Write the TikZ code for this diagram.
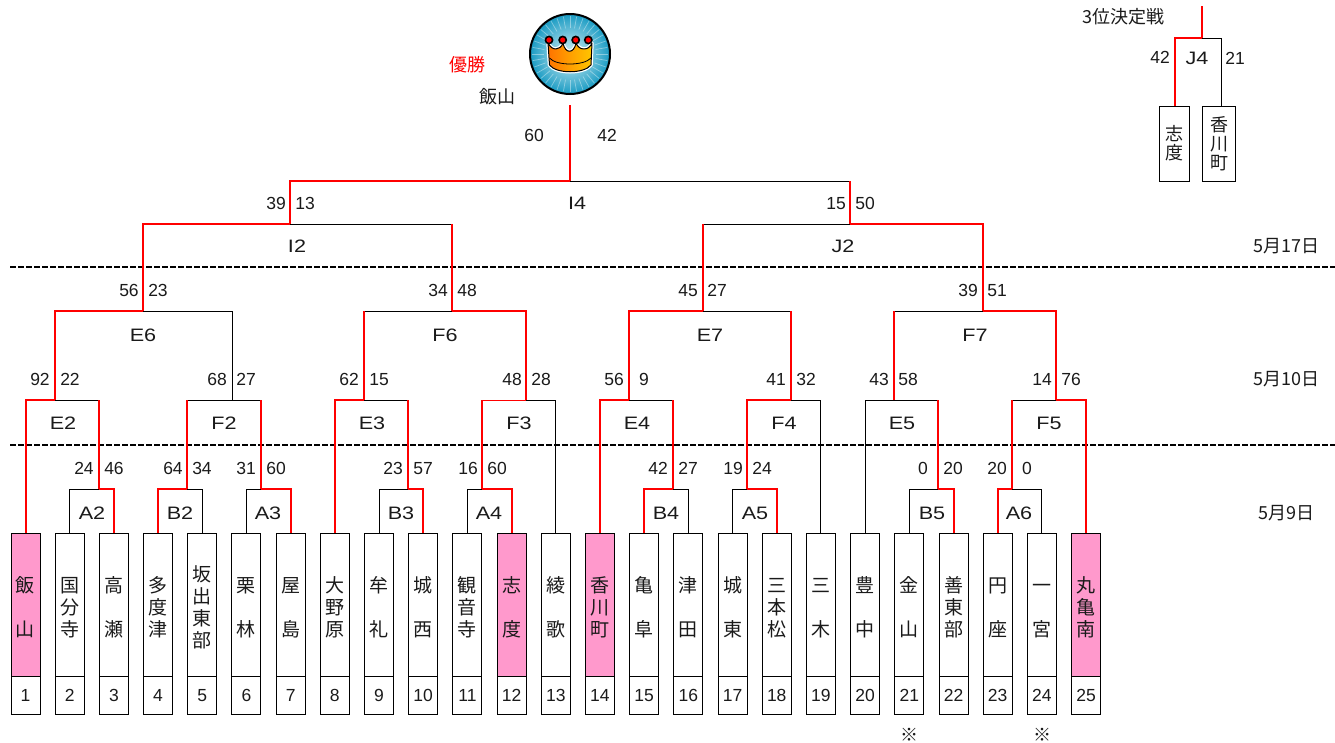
\documentclass[tikz,border=0pt]{standalone}
\usepackage{fontspec}
\setmainfont{Liberation Sans}
\newfontfamily\cjk{Noto Sans CJK JP}
\newfontfamily\widefont[FakeStretch=1.2]{Liberation Sans}
\definecolor{winred}{HTML}{FF0000}
\definecolor{seedpink}{HTML}{FF99CC}
\definecolor{ink}{HTML}{1A1A1A}
\newcommand{\tophead}{\rule{0pt}{21pt}}

\begin{document}
\begin{tikzpicture}[x=1pt,y=-1pt,node distance=44.19pt]
  \tikzstyle{team}=[rectangle,draw=black,line width=1pt,inner sep=0pt,minimum width=29pt,minimum height=143pt,align=center,text=ink,font=\fontsize{19}{22}\selectfont\cjk]
  \tikzstyle{seed}=[team,fill=seedpink]
  \tikzstyle{numbox}=[rectangle,draw=black,line width=1pt,inner sep=0pt,minimum width=29pt,minimum height=38pt,text=ink,text height=13pt,text depth=0pt,font=\fontsize{17.5}{20}\selectfont,node distance=90.5pt]
  \tikzstyle{score}=[inner sep=0pt,text=ink,text height=13pt,text depth=0pt,font=\fontsize{17.5}{20}\selectfont]
  \tikzstyle{match}=[inner sep=0pt,text=ink,font=\fontsize{18}{20}\selectfont\widefont]
  \tikzstyle{jp}=[inner sep=0pt,text=ink,font=\fontsize{18}{20}\selectfont\cjk]
  \tikzstyle{win}=[draw=winred,line width=2pt]
  \tikzstyle{lose}=[draw=black,line width=1pt]
  \tikzstyle{dayline}=[draw=black,line width=1.5pt,dash pattern=on 5.5pt off 2.5pt]

  \useasboundingbox (0,0) rectangle (1335,742);

  % teams
  \node[seed] (t1) at (25.5,604.5) {\tophead 飯\\[22pt]山};
  \node[team, right of=t1] (t2) {\tophead 国\\分\\寺};
  \node[team, right of=t2] (t3) {\tophead 高\\[22pt]瀬};
  \node[team, right of=t3] (t4) {\tophead 多\\度\\津};
  \node[team, right of=t4] (t5) {\tophead 坂\\出\\東\\部};
  \node[team, right of=t5] (t6) {\tophead 栗\\[22pt]林};
  \node[team, right of=t6] (t7) {\tophead 屋\\[22pt]島};
  \node[team, right of=t7] (t8) {\tophead 大\\野\\原};
  \node[team, right of=t8] (t9) {\tophead 牟\\[22pt]礼};
  \node[team, right of=t9] (t10) {\tophead 城\\[22pt]西};
  \node[team, right of=t10] (t11) {\tophead 観\\音\\寺};
  \node[seed, right of=t11] (t12) {\tophead 志\\[22pt]度};
  \node[team, right of=t12] (t13) {\tophead 綾\\[22pt]歌};
  \node[seed, right of=t13] (t14) {\tophead 香\\川\\町};
  \node[team, right of=t14] (t15) {\tophead 亀\\[22pt]阜};
  \node[team, right of=t15] (t16) {\tophead 津\\[22pt]田};
  \node[team, right of=t16] (t17) {\tophead 城\\[22pt]東};
  \node[team, right of=t17] (t18) {\tophead 三\\本\\松};
  \node[team, right of=t18] (t19) {\tophead 三\\[22pt]木};
  \node[team, right of=t19] (t20) {\tophead 豊\\[22pt]中};
  \node[team, right of=t20] (t21) {\tophead 金\\[22pt]山};
  \node[team, right of=t21] (t22) {\tophead 善\\東\\部};
  \node[team, right of=t22] (t23) {\tophead 円\\[22pt]座};
  \node[team, right of=t23] (t24) {\tophead 一\\[22pt]宮};
  \node[seed, right of=t24] (t25) {\tophead 丸\\亀\\南};

  % numbers
  \node[numbox, below of=t1] (n1) {1};
  \node[numbox, below of=t2] (n2) {2};
  \node[numbox, below of=t3] (n3) {3};
  \node[numbox, below of=t4] (n4) {4};
  \node[numbox, below of=t5] (n5) {5};
  \node[numbox, below of=t6] (n6) {6};
  \node[numbox, below of=t7] (n7) {7};
  \node[numbox, below of=t8] (n8) {8};
  \node[numbox, below of=t9] (n9) {9};
  \node[numbox, below of=t10] (n10) {10};
  \node[numbox, below of=t11] (n11) {11};
  \node[numbox, below of=t12] (n12) {12};
  \node[numbox, below of=t13] (n13) {13};
  \node[numbox, below of=t14] (n14) {14};
  \node[numbox, below of=t15] (n15) {15};
  \node[numbox, below of=t16] (n16) {16};
  \node[numbox, below of=t17] (n17) {17};
  \node[numbox, below of=t18] (n18) {18};
  \node[numbox, below of=t19] (n19) {19};
  \node[numbox, below of=t20] (n20) {20};
  \node[numbox, below of=t21] (n21) {21};
  \node[numbox, below of=t22] (n22) {22};
  \node[numbox, below of=t23] (n23) {23};
  \node[numbox, below of=t24] (n24) {24};
  \node[numbox, below of=t25] (n25) {25};
  \node[jp] (mark21) at (909,735) {※};
  \node[jp] (mark24) at (1042,735) {※};

  % day lines
  \coordinate (d1a) at (10,267);
  \coordinate (d1b) at (1335,267);
  \coordinate (d2a) at (10,445);
  \coordinate (d2b) at (1335,445);
  \draw[dayline] (d1a) -- (d1b);
  \draw[dayline] (d2a) -- (d2b);

  % bracket joints
  \coordinate (mA2) at (99,489);
  \coordinate (mB2) at (187,489);
  \coordinate (mA3) at (261,489);
  \coordinate (mB3) at (408,489);
  \coordinate (mA4) at (482,489);
  \coordinate (mB4) at (673,489);
  \coordinate (mA5) at (747,489);
  \coordinate (mB5) at (938,489);
  \coordinate (mA6) at (1012,489);
  \coordinate (mE2) at (55,400);
  \coordinate (mF2) at (232,400);
  \coordinate (mE3) at (364,400);
  \coordinate (mF3) at (526,400);
  \coordinate (mE4) at (629,400);
  \coordinate (mF4) at (791,400);
  \coordinate (mE5) at (894,400);
  \coordinate (mF5) at (1056,400);
  \coordinate (mE6) at (143,311);
  \coordinate (mF6) at (452,311);
  \coordinate (mE7) at (703,311);
  \coordinate (mF7) at (983,311);
  \coordinate (mI2) at (290,224);
  \coordinate (mJ2) at (850,224);
  \coordinate (mI4) at (570,181);
  \coordinate (champ) at (570,105);

  % losing sides
  \draw[lose] (t2.north) |- (mA2);
  \draw[lose] (t5.north) |- (mB2);
  \draw[lose] (t6.north) |- (mA3);
  \draw[lose] (t9.north) |- (mB3);
  \draw[lose] (t11.north) |- (mA4);
  \draw[lose] (t16.north) |- (mB4);
  \draw[lose] (t17.north) |- (mA5);
  \draw[lose] (t21.north) |- (mB5);
  \draw[lose] (t24.north) |- (mA6);
  \draw[lose] (mA2 |- mE2) -- (mE2);
  \draw[lose] (mB2 |- mF2) -- (mA3 |- mF2);
  \draw[lose] (mB3 |- mE3) -- (mE3);
  \draw[lose] (t13.north) |- (mF3);
  \draw[lose] (mB4 |- mE4) -- (mE4);
  \draw[lose] (t19.north) |- (mF4);
  \draw[lose] (t20.north) |- (mE5);
  \draw[lose] (mB5 |- mE5) -- (mE5);
  \draw[lose] (mA6 |- mF5) -- (mF5);
  \draw[lose] (mF2) |- (mE6);
  \draw[lose] (mE3 |- mF6) -- (mF6);
  \draw[lose] (mF4 |- mE7) -- (mE7);
  \draw[lose] (mE5 |- mF7) -- (mF7);
  \draw[lose] (mF6 |- mI2) -- (mI2);
  \draw[lose] (mE7 |- mJ2) -- (mJ2);
  \draw[lose] (mJ2 |- mI4) -- (mI4);

  % winning sides
  \draw[win] (t3.north) |- (mA2);
  \draw[win] (t4.north) |- (mB2);
  \draw[win] (t7.north) |- (mA3);
  \draw[win] (t10.north) |- (mB3);
  \draw[win] (t12.north) |- (mA4);
  \draw[win] (t15.north) |- (mB4);
  \draw[win] (t18.north) |- (mA5);
  \draw[win] (t22.north) |- (mB5);
  \draw[win] (t23.north) |- (mA6);
  \draw[win] (t1.north) |- (mE2);
  \draw[win] (mA2) -- (mA2 |- mE2);
  \draw[win] (mB2) -- (mB2 |- mF2);
  \draw[win] (mA3) -- (mA3 |- mF2);
  \draw[win] (t8.north) |- (mE3);
  \draw[win] (mB3) -- (mB3 |- mE3);
  \draw[win] (mA4) -- (mA4 |- mF3);
  \draw[draw=winred,line width=1pt] (mA4 |- mF3) -- (mF3);
  \draw[win] (t14.north) |- (mE4);
  \draw[win] (mB4) -- (mB4 |- mE4);
  \draw[win] (mA5) |- (mF4);
  \draw[win] (mB5) -- (mB5 |- mE5);
  \draw[win] (mA6) -- (mA6 |- mF5);
  \draw[win] (t25.north) |- (mF5);
  \draw[win] (mE2) |- (mE6);
  \draw[win] (mE3) -- (mE3 |- mF6);
  \draw[win] (mF3) |- (mF6);
  \draw[win] (mE4) |- (mE7);
  \draw[win] (mF4) -- (mF4 |- mE7);
  \draw[win] (mE5) -- (mE5 |- mF7);
  \draw[win] (mF5) |- (mF7);
  \draw[win] (mE6) |- (mI2);
  \draw[win] (mF6) -- (mF6 |- mI2);
  \draw[win] (mE7) -- (mE7 |- mJ2);
  \draw[win] (mF7) |- (mJ2);
  \draw[win] (mI2) |- (mI4);
  \draw[win] (mJ2) -- (mJ2 |- mI4);
  \draw[win] (mI4) -- (champ);

  % match names
  \node[match] (lA2) at (92,513) {A2};
  \node[match] (lB2) at (180,513) {B2};
  \node[match] (lA3) at (268,513) {A3};
  \node[match] (lB3) at (401,513) {B3};
  \node[match] (lA4) at (489,513) {A4};
  \node[match] (lB4) at (666,513) {B4};
  \node[match] (lA5) at (755,513) {A5};
  \node[match] (lB5) at (932,513) {B5};
  \node[match] (lA6) at (1019,513) {A6};
  \node[match] (lE2) at (63,423) {E2};
  \node[match] (lF2) at (224,423) {F2};
  \node[match] (lE3) at (372,423) {E3};
  \node[match] (lF3) at (519,423) {F3};
  \node[match] (lE4) at (637,423) {E4};
  \node[match] (lF4) at (784,423) {F4};
  \node[match] (lE5) at (902,423) {E5};
  \node[match] (lF5) at (1049,423) {F5};
  \node[match] (lE6) at (143,335) {E6};
  \node[match] (lF6) at (445,335) {F6};
  \node[match] (lE7) at (710,335) {E7};
  \node[match] (lF7) at (975,335) {F7};
  \node[match] (lI2) at (297,246) {I2};
  \node[match] (lJ2) at (843,246) {J2};
  \node[match] (lI4) at (577,203) {I4};

  % scores
  \node[score] (sA2a) at (84,468) {24}; \node[score] (sA2b) at (114,468) {46};
  \node[score] (sB2a) at (173,468) {64}; \node[score] (sB2b) at (202,468) {34};
  \node[score] (sA3a) at (246,468) {31}; \node[score] (sA3b) at (276,468) {60};
  \node[score] (sB3a) at (393,468) {23}; \node[score] (sB3b) at (423,468) {57};
  \node[score] (sA4a) at (468,468) {16}; \node[score] (sA4b) at (497,468) {60};
  \node[score] (sB4a) at (658,468) {42}; \node[score] (sB4b) at (688,468) {27};
  \node[score] (sA5a) at (733,468) {19}; \node[score] (sA5b) at (762,468) {24};
  \node[score] (sB5a) at (923,468) {0}; \node[score] (sB5b) at (953,468) {20};
  \node[score] (sA6a) at (997,468) {20}; \node[score] (sA6b) at (1027,468) {0};

  \node[score] (sE2a) at (40,379) {92}; \node[score] (sE2b) at (70,379) {22};
  \node[score] (sF2a) at (217,379) {68}; \node[score] (sF2b) at (246,379) {27};
  \node[score] (sE3a) at (349,379) {62}; \node[score] (sE3b) at (379,379) {15};
  \node[score] (sF3a) at (512,379) {48}; \node[score] (sF3b) at (541,379) {28};
  \node[score] (sE4a) at (614,379) {56}; \node[score] (sE4b) at (644,379) {9};
  \node[score] (sF4a) at (776,379) {41}; \node[score] (sF4b) at (806,379) {32};
  \node[score] (sE5a) at (879,379) {43}; \node[score] (sE5b) at (908,379) {58};
  \node[score] (sF5a) at (1042,379) {14}; \node[score] (sF5b) at (1071,379) {76};

  \node[score] (sE6a) at (129,290) {56}; \node[score] (sE6b) at (158,290) {23};
  \node[score] (sF6a) at (438,290) {34}; \node[score] (sF6b) at (467,290) {48};
  \node[score] (sE7a) at (688,290) {45}; \node[score] (sE7b) at (717,290) {27};
  \node[score] (sF7a) at (968,290) {39}; \node[score] (sF7b) at (997,290) {51};

  \node[score] (sI2a) at (276,203) {39}; \node[score] (sI2b) at (305,203) {13};
  \node[score] (sJ2a) at (836,203) {15}; \node[score] (sJ2b) at (865,203) {50};
  \node[score] (sI4a) at (534,135) {60}; \node[score] (sI4b) at (607,135) {42};

  % days
  \node[jp] (day3) at (1286,246) {5月17日};
  \node[jp] (day2) at (1286,379) {5月10日};
  \node[jp] (day1) at (1286,513) {5月9日};

  % third place
  \node[jp] (third) at (1123,17) {3位決定戦};
  \node[team, minimum width=30pt, minimum height=75pt, font=\fontsize{18}{19}\selectfont\cjk] (tJa) at (1174.5,143.5) {志\\度};
  \node[team, minimum width=33pt, minimum height=75pt, font=\fontsize{18}{19}\selectfont\cjk] (tJb) at (1219,143.5) {香\\川\\町};
  \coordinate (mJ4) at (1202,38);
  \coordinate (pJ4) at (1202,6);
  \coordinate (pJb) at (1221.5,106);
  \draw[lose] (pJb) |- (mJ4);
  \draw[win] (tJa.north) |- (mJ4);
  \draw[win] (mJ4) -- (pJ4);
  \node[score] (sJ4a) at (1160,57) {42};
  \node[match] (lJ4) at (1197,58) {J4};
  \node[score] (sJ4b) at (1235,58) {21};

  % champion
  \node[jp, text=winred] (won) at (467,65) {優勝};
  \node[jp] (winner) at (497,97) {飯山};
  \node[circle,draw=black,line width=2pt,minimum size=80pt,inner sep=0pt,inner color={rgb,255:red,215;green,240;blue,245},outer color={rgb,255:red,25;green,155;blue,195}] (crown) at (570,54) {};
  \foreach \a in {0,10,...,350}
    \draw[white,opacity=.4,line width=.7pt] (crown.center) ++(\a:26) -- ++(\a:12);
  \draw[white,line width=3.5pt,fill=white,line join=round] (548,43) -- (549.5,65) .. controls (556,74) and (584,74) .. (591,65) -- (592,43) .. controls (589,51) and (579,51) .. (576,43) .. controls (574,54) and (565,54) .. (563,43) .. controls (560,51) and (552,51) .. (548,43) -- cycle;
  \draw[black,line width=1pt,left color=orange!90!red,right color=yellow!55!orange,middle color=orange!75!yellow,line join=round] (548,43) -- (549.5,65) .. controls (556,74) and (584,74) .. (591,65) -- (592,43) .. controls (589,51) and (579,51) .. (576,43) .. controls (574,54) and (565,54) .. (563,43) .. controls (560,51) and (552,51) .. (548,43) -- cycle;
  \draw[black,line width=.8pt] (549.5,58) .. controls (556,66) and (584,66) .. (591,58);
  \foreach \x in {549,562.7,575.7,588.3}
    \draw[black,line width=1.6pt,fill=winred] (\x,40) circle[radius=3.6];
\end{tikzpicture}
\end{document}
